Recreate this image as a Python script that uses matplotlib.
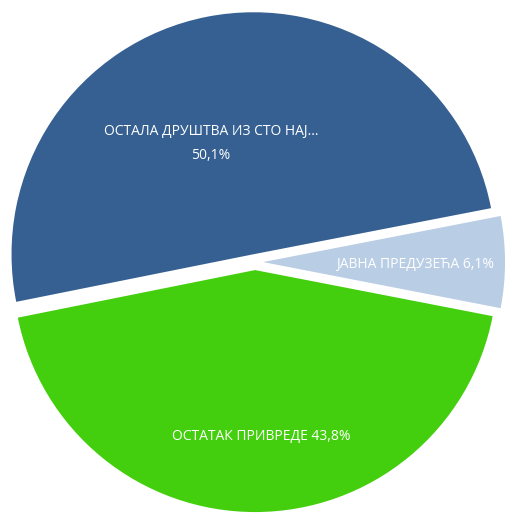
import numpy as np
import matplotlib.pyplot as plt

plt.rcParams['font.family'] = ['Open Sans', 'DejaVu Sans']

# shares, starting with the small slice on the right and going counter-clockwise
names = ['ЈАВНА ПРЕДУЗЕЋА', 'ОСТАЛА ДРУШТВА ИЗ СТО НАЈ...', 'ОСТАТАК ПРИВРЕДЕ']
shares = [6.1, 50.1, 43.8]
colors = ['#b9cde5', '#366092', '#44cf0e']

# label placement: (radius fraction, angle in degrees) from each slice's apex
label_pos = [(0.63, -1), (0.49, 111), (0.69, -88)]
label_fmt = ['{n} {v}%', '{n}\n{v}%', '{n} {v}%']

fig = plt.figure(figsize=(5.06, 5.14), dpi=100)
ax = fig.add_axes([0, 0, 1, 1])

start = -shares[0] / 100 * 360 / 2
explode = [0.033] * 3
wedges, _ = ax.pie(shares, colors=colors, startangle=start, explode=explode,
                   counterclock=True, radius=1.0,
                   wedgeprops=dict(linewidth=0))

for w, n, v, (rf, ang), fmt in zip(wedges, names, shares, label_pos, label_fmt):
    cx, cy = w.center
    a = np.deg2rad(ang)
    txt = fmt.format(n=n, v=f'{v:.1f}'.replace('.', ','))
    ax.text(cx + rf * np.cos(a), cy + rf * np.sin(a), txt,
            ha='center', va='center', color='white', fontsize=10,
            linespacing=1.8)

ax.set_xlim(-1.054, 1.037)
ax.set_ylim(-1.041, 1.083)
ax.set_aspect('equal')
ax.axis('off')

fig.savefig('out.png', dpi=100)
